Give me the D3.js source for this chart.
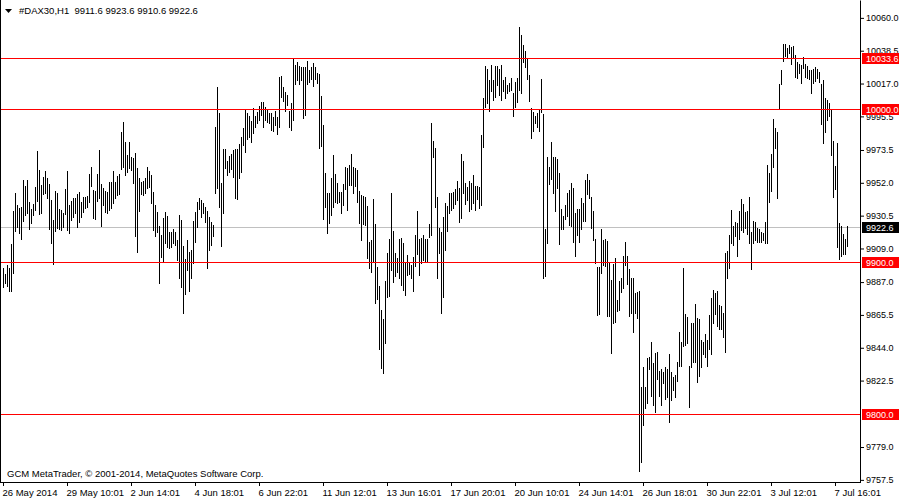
<!DOCTYPE html>
<html>
<head>
<meta charset="utf-8">
<script src="https://cdn.jsdelivr.net/npm/d3@7"></script>
<style>
  body { margin: 0; background: #fff; }
  svg { display: block; }
  text { font-family: "Liberation Sans", Arial, sans-serif; }
</style>
</head>
<body>
<div id="chart"></div>
<script>
// H1 bars, high / low per bar
var highs = [
  9895.7, 9892.0, 9897.9, 9895.7, 9911.6, 9933.5, 9945.3, 9937.2, 9935.0, 9936.1,
  9953.5, 9949.6, 9953.5, 9939.4, 9934.6, 9937.6, 9949.2, 9972.7, 9960.1, 9950.3,
  9955.7, 9959.4, 9954.6, 9950.9, 9940.5, 9927.3, 9946.2, 9945.3, 9934.6, 9933.9,
  9931.7, 9947.7, 9959.4, 9937.2, 9940.0, 9941.6, 9942.0, 9944.2, 9945.9, 9939.4,
  9942.2, 9942.7, 9943.1, 9957.4, 9962.3, 9947.1, 9946.6, 9957.2, 9973.2, 9950.7,
  9948.1, 9946.6, 9945.9, 9952.0, 9952.0, 9959.4, 9952.4, 9956.4, 9957.4, 9985.2,
  9991.5, 9978.6, 9969.9, 9978.2, 9968.8, 9968.1, 9971.4, 9961.2, 9954.6, 9952.0,
  9952.9, 9955.0, 9962.3, 9959.4, 9956.8, 9945.4, 9937.2, 9932.8, 9923.4, 9917.5,
  9928.4, 9932.8, 9930.2, 9919.7, 9919.7, 9921.4, 9919.2, 9914.2, 9930.6, 9927.3,
  9910.5, 9901.6, 9914.2, 9906.6, 9907.7, 9926.9, 9932.8, 9939.4, 9941.6, 9940.5,
  9938.2, 9936.1, 9933.4, 9929.5, 9926.2, 9924.0, 9988.4, 10014.6, 9997.2, 9951.3,
  9973.8, 9973.8, 9966.2, 9969.5, 9970.3, 9973.2, 9973.8, 9973.6, 9977.1, 9981.9,
  9987.8, 9999.4, 9997.6, 9995.6, 9992.4, 10000.7, 9995.2, 9998.3, 10002.0, 10004.8,
  10004.4, 10001.5, 9999.4, 9997.2, 9997.2, 9995.0, 9998.9, 9995.0, 10021.2, 10021.6,
  10014.6, 10011.4, 10009.2, 9998.9, 10004.2, 10033.2, 10028.8, 10030.6, 10028.4, 10027.7,
  10027.7, 10027.3, 10031.7, 10025.6, 10027.7, 10029.9, 10027.7, 10023.8, 10022.9, 10008.5,
  9989.5, 9958.3, 9944.8, 9945.2, 9955.0, 9969.9, 9957.4, 9951.3, 9945.9, 9945.4,
  9950.9, 9962.3, 9961.6, 9963.3, 9970.5, 9962.3, 9961.6, 9960.1, 9946.3, 9943.7,
  9943.3, 9942.6, 9936.7, 9913.1, 9914.2, 9941.1, 9924.7, 9896.8, 9884.1, 9868.4,
  9862.5, 9887.6, 9905.5, 9914.9, 9945.2, 9920.3, 9905.5, 9902.7, 9914.7, 9915.3,
  9912.5, 9898.9, 9904.4, 9898.9, 9897.9, 9903.3, 9917.5, 9933.2, 9914.7, 9915.3,
  9917.5, 9914.9, 9914.9, 9924.7, 9991.1, 9979.3, 9974.7, 9942.6, 9922.3, 9919.7,
  9929.5, 9938.7, 9936.7, 9945.2, 9945.2, 9945.4, 9947.4, 9952.9, 9948.5, 9970.5,
  9966.2, 9951.8, 9949.2, 9952.9, 9951.8, 9956.8, 9949.8, 9949.8, 9949.2, 9983.0,
  10007.4, 10028.4, 10026.0, 10019.0, 10028.8, 10019.0, 10028.2, 10028.2, 10026.2, 10028.8,
  10019.0, 10021.2, 10015.7, 10017.3, 10020.1, 10010.7, 10017.9, 10020.5, 10053.9, 10048.5,
  10041.9, 10038.0, 10033.6, 10022.3, 10000.5, 9998.3, 9995.4, 9997.6, 9999.8, 10019.7,
  9996.7, 9921.4, 9968.4, 9962.3, 9978.2, 9968.8, 9968.4, 9967.1, 9957.9, 9934.3,
  9930.0, 9937.2, 9944.8, 9947.0, 9951.8, 9948.5, 9932.1, 9934.3, 9934.3, 9941.5,
  9938.7, 9953.5, 9957.4, 9953.5, 9942.6, 9933.2, 9914.7, 9896.3, 9896.8, 9921.4,
  9914.2, 9914.9, 9913.6, 9899.4, 9888.0, 9898.3, 9902.7, 9875.0, 9887.6, 9889.1,
  9904.0, 9912.7, 9903.8, 9895.0, 9889.6, 9889.6, 9879.3, 9880.4, 9880.8, 9818.2,
  9831.3, 9818.1, 9836.7, 9837.8, 9847.2, 9833.4, 9840.4, 9841.0, 9828.6, 9829.5,
  9827.9, 9830.8, 9829.5, 9839.9, 9827.9, 9824.7, 9825.8, 9834.1, 9854.1, 9847.6,
  9896.0, 9866.1, 9864.0, 9831.7, 9860.0, 9860.0, 9872.3, 9863.3, 9862.2, 9848.7,
  9847.6, 9853.0, 9848.7, 9865.1, 9876.0, 9881.4, 9879.2, 9880.8, 9871.6, 9871.0,
  9866.6, 9905.4, 9907.2, 9917.4, 9933.8, 9923.3, 9926.2, 9925.5, 9933.4, 9941.0,
  9937.7, 9932.7, 9933.4, 9942.6, 9919.6, 9926.6, 9926.2, 9922.3, 9921.4, 9919.6,
  9918.5, 9926.2, 9963.3, 9957.8, 9970.5, 9993.4, 9987.3, 9985.1, 10016.3, 10025.5,
  10042.3, 10042.3, 10039.7, 10041.9, 10040.8, 10041.2, 10035.3, 10031.0, 10029.2, 10028.8,
  10034.2, 10029.4, 10028.1, 10025.5, 10025.5, 10025.9, 10027.3, 10025.9, 10024.4, 10016.3,
  10018.9, 10007.0, 10005.9, 10004.1, 9999.7, 9979.0, 9962.9, 9977.5, 9925.5, 9923.3,
  9918.1, 9914.8, 9923.6
];

var lows = [
  9883.7, 9885.9, 9884.1, 9881.1, 9881.1, 9892.4, 9920.3, 9922.5, 9919.0, 9914.9,
  9926.9, 9930.6, 9931.7, 9921.4, 9925.6, 9930.6, 9933.9, 9940.0, 9931.3, 9932.2,
  9944.4, 9944.8, 9941.6, 9921.4, 9912.5, 9898.5, 9920.3, 9921.9, 9921.2, 9920.8,
  9922.5, 9931.0, 9920.8, 9919.0, 9927.3, 9929.5, 9931.7, 9922.9, 9926.2, 9929.5,
  9932.8, 9935.4, 9936.1, 9939.4, 9949.6, 9928.4, 9928.0, 9939.8, 9942.0, 9923.6,
  9937.2, 9932.6, 9932.2, 9933.9, 9935.4, 9938.7, 9941.6, 9943.7, 9944.2, 9960.5,
  9962.3, 9956.8, 9959.0, 9961.2, 9960.1, 9951.3, 9916.8, 9906.6, 9933.4, 9944.4,
  9943.7, 9944.8, 9948.1, 9949.2, 9938.7, 9920.8, 9916.8, 9919.7, 9886.3, 9903.3,
  9900.0, 9912.0, 9909.9, 9909.2, 9909.9, 9912.5, 9910.9, 9901.1, 9889.6, 9883.7,
  9866.6, 9878.6, 9894.6, 9881.1, 9889.6, 9898.9, 9913.1, 9922.9, 9934.3, 9929.5,
  9931.7, 9926.2, 9895.7, 9907.7, 9910.9, 9916.8, 9944.8, 9948.1, 9936.1, 9910.3,
  9932.2, 9961.6, 9956.8, 9959.0, 9960.7, 9955.3, 9942.0, 9941.1, 9955.0, 9959.0,
  9976.4, 9972.1, 9980.2, 9981.9, 9978.4, 9984.1, 9988.4, 9990.6, 9992.8, 9996.1,
  9988.4, 9992.8, 9991.7, 9990.6, 9986.3, 9985.6, 9989.5, 9983.4, 9988.4, 10008.1,
  10005.3, 9998.9, 10002.6, 9988.4, 9986.3, 9992.8, 10016.2, 10019.0, 10016.2, 10019.0,
  9994.3, 9996.1, 10016.4, 10017.5, 10019.7, 10015.3, 10019.4, 10016.8, 9974.3, 9975.8,
  9928.0, 9936.1, 9919.0, 9925.6, 9930.6, 9936.1, 9939.4, 9938.7, 9939.4, 9931.7,
  9937.2, 9947.4, 9933.9, 9950.2, 9950.2, 9945.2, 9949.8, 9939.4, 9925.6, 9914.2,
  9924.7, 9924.1, 9902.7, 9895.7, 9893.5, 9900.0, 9872.7, 9875.4, 9842.6, 9830.2,
  9826.9, 9847.0, 9876.7, 9877.5, 9894.6, 9887.0, 9890.7, 9893.1, 9889.1, 9884.8,
  9881.5, 9878.2, 9891.3, 9892.0, 9889.1, 9881.1, 9897.2, 9905.1, 9891.3, 9899.4,
  9901.1, 9900.0, 9900.7, 9916.4, 9917.5, 9968.8, 9936.1, 9889.6, 9905.9, 9866.2,
  9877.1, 9907.7, 9920.3, 9931.7, 9933.9, 9935.0, 9937.6, 9940.5, 9926.2, 9928.4,
  9944.8, 9937.8, 9940.5, 9933.4, 9934.3, 9938.2, 9933.9, 9940.9, 9935.4, 9937.2,
  9975.3, 10001.5, 10004.2, 9998.9, 10011.8, 10005.9, 10007.7, 10015.7, 10009.2, 10005.9,
  10012.0, 10007.0, 10010.7, 10011.8, 10012.5, 9995.6, 10001.5, 10004.8, 10012.5, 10010.3,
  10031.0, 10027.7, 10019.4, 10005.5, 9980.8, 9985.8, 9990.6, 9988.0, 9985.6, 9997.8,
  9889.6, 9890.7, 9912.5, 9950.7, 9954.0, 9944.8, 9933.4, 9948.5, 9911.4, 9921.4,
  9921.2, 9927.8, 9930.0, 9924.1, 9923.6, 9912.7, 9904.0, 9917.5, 9912.7, 9921.4,
  9926.7, 9926.9, 9944.1, 9941.5, 9922.3, 9914.2, 9899.4, 9865.1, 9865.8, 9892.8,
  9897.9, 9897.2, 9864.5, 9864.5, 9840.4, 9860.1, 9860.7, 9867.7, 9868.4, 9880.4,
  9882.6, 9897.9, 9885.2, 9864.5, 9866.6, 9854.2, 9866.2, 9863.4, 9763.2, 9769.1,
  9793.1, 9804.4, 9807.6, 9829.5, 9812.0, 9806.1, 9801.8, 9823.1, 9812.2, 9806.1,
  9820.3, 9809.8, 9811.6, 9795.2, 9809.4, 9815.9, 9811.6, 9822.1, 9831.7, 9831.9,
  9844.7, 9845.4, 9846.5, 9805.0, 9831.2, 9834.5, 9834.5, 9821.4, 9825.3, 9831.2,
  9839.5, 9837.8, 9831.9, 9842.6, 9839.3, 9859.6, 9866.1, 9857.9, 9855.7, 9855.7,
  9850.9, 9841.0, 9889.1, 9896.0, 9912.0, 9910.9, 9916.8, 9903.9, 9914.6, 9920.7,
  9919.6, 9921.8, 9918.1, 9912.4, 9895.0, 9912.0, 9914.2, 9913.1, 9912.6, 9913.1,
  9914.2, 9912.0, 9912.0, 9939.3, 9946.5, 9962.2, 9974.2, 9941.5, 9999.7, 10016.3,
  10031.6, 10034.9, 10033.8, 10036.4, 10029.4, 10033.8, 10021.1, 10020.5, 10023.3, 10016.8,
  10026.6, 10021.1, 10020.0, 10019.4, 10010.2, 10016.8, 10018.5, 10020.0, 10017.9, 9990.1,
  9977.9, 9985.1, 9992.8, 9995.4, 9969.8, 9942.1, 9947.4, 9909.4, 9901.9, 9903.7,
  9905.0, 9905.0, 9910.6
];

// time axis: label text and the bar it sits on
var timeLabels = ["26 May 2014", "29 May 10:01", "2 Jun 14:01", "4 Jun 18:01", "6 Jun 22:01",
  "11 Jun 12:01", "13 Jun 16:01", "17 Jun 20:01", "20 Jun 10:01", "24 Jun 14:01",
  "26 Jun 18:01", "30 Jun 22:01", "3 Jul 12:01", "7 Jul 16:01"];
var timeBars = [0, 32, 64, 96, 128, 160, 192, 224, 256, 288, 320, 352, 384, 416];

var priceTicks = [10060.0, 10038.5, 10017.0, 9995.5, 9973.5, 9952.0, 9930.5, 9909.0,
  9887.0, 9865.5, 9844.0, 9822.5, 9779.0, 9757.5];

// horizontal lines drawn by the user
var levels = [10033.6, 10000.0, 9900.0, 9800.0];
var bid = 9922.6;
var lastOHLC = [9911.6, 9923.6, 9910.6, 9922.6];

var W = 900, H = 500,
    plotRight = 860, plotBottom = 482;

var svg = d3.select("#chart").append("svg")
    .attr("width", W)
    .attr("height", H)
    .style("background", "#fff");

var x = d3.scaleLinear()
    .domain([0, highs.length - 1])
    .range([3, 3 + 2 * (highs.length - 1)]);

var y = d3.scaleLinear()
    .domain([9756.1, 10071.7])
    .range([plotBottom, 0]);

function py(v) { return Math.floor(y(v)) + 0.5; }

// bid line (under the bars)
svg.append("line")
    .attr("x1", 0).attr("x2", plotRight)
    .attr("y1", py(bid)).attr("y2", py(bid))
    .attr("stroke", "#c0c0c0")
    .attr("shape-rendering", "crispEdges");

// bars
svg.append("g")
    .attr("shape-rendering", "crispEdges")
    .selectAll("line")
    .data(highs)
    .join("line")
    .attr("x1", (d, i) => x(i) + 0.5)
    .attr("x2", (d, i) => x(i) + 0.5)
    .attr("y1", d => Math.floor(y(d)))
    .attr("y2", (d, i) => Math.floor(y(lows[i])) + 1)
    .attr("stroke", "#000")
    .attr("stroke-width", 1);

// red levels
svg.append("g")
    .selectAll("line")
    .data(levels)
    .join("line")
    .attr("x1", 0).attr("x2", plotRight)
    .attr("y1", d => py(d)).attr("y2", d => py(d))
    .attr("stroke", "#ff0000")
    .attr("shape-rendering", "crispEdges");

// frame
svg.append("line")
    .attr("x1", 0.5).attr("x2", 0.5)
    .attr("y1", 0).attr("y2", plotBottom)
    .attr("stroke", "#000");

// right price axis
var yAxis = svg.append("g")
    .attr("transform", "translate(" + plotRight + ",0)")
    .call(d3.axisRight(y)
        .tickValues(priceTicks)
        .tickSize(4)
        .tickSizeOuter(0)
        .tickPadding(2)
        .tickFormat(d3.format(".1f")));
yAxis.select(".domain").attr("stroke", "#000");
yAxis.selectAll("text")
    .style("font-family", "'Liberation Sans', Arial, sans-serif")
    .style("font-size", "9px")
    .attr("fill", "#000");

// bottom time axis
var xAxis = svg.append("g")
    .attr("transform", "translate(0," + plotBottom + ")")
    .call(d3.axisBottom(x)
        .tickValues(timeBars)
        .tickSize(4)
        .tickSizeOuter(0)
        .tickFormat((d, i) => timeLabels[i]));
xAxis.select(".domain").attr("d", "M0,0.5H" + (plotRight + 1));
xAxis.selectAll("text")
    .attr("text-anchor", "start")
    .attr("x", -1)
    .style("font-family", "'Liberation Sans', Arial, sans-serif")
    .style("font-size", "9.5px")
    .attr("fill", "#000");

// price labels on the axis for the levels and the bid
var tags = levels.map(v => ({v: v, fill: "#ff0000"}));
tags.push({v: bid, fill: "#000"});

var tagG = svg.append("g").selectAll("g")
    .data(tags)
    .join("g")
    .attr("transform", d => "translate(" + (plotRight + 2) + "," + py(d.v) + ")");
tagG.append("rect")
    .attr("x", 0).attr("y", -5.5)
    .attr("width", 37).attr("height", 11)
    .attr("fill", d => d.fill);
tagG.append("text")
    .attr("x", 4).attr("y", 0)
    .attr("dy", "0.35em")
    .attr("fill", "#fff")
    .style("font-size", "9px")
    .text(d => d3.format(".1f")(d.v));

// title
svg.append("path")
    .attr("d", "M5,9H12L8.5,13Z")
    .attr("fill", "#000");
svg.append("text")
    .attr("x", 19).attr("y", 14)
    .style("font-size", "9.5px")
    .attr("fill", "#000")
    .text("#DAX30,H1  " + lastOHLC.map(d3.format(".1f")).join(" "))
    .attr("xml:space", "preserve");

svg.append("text")
    .attr("x", 7).attr("y", 477)
    .style("font-size", "9.5px")
    .attr("fill", "#000")
    .text("GCM MetaTrader, \u00a9 2001-2014, MetaQuotes Software Corp.");
</script>
</body>
</html>
